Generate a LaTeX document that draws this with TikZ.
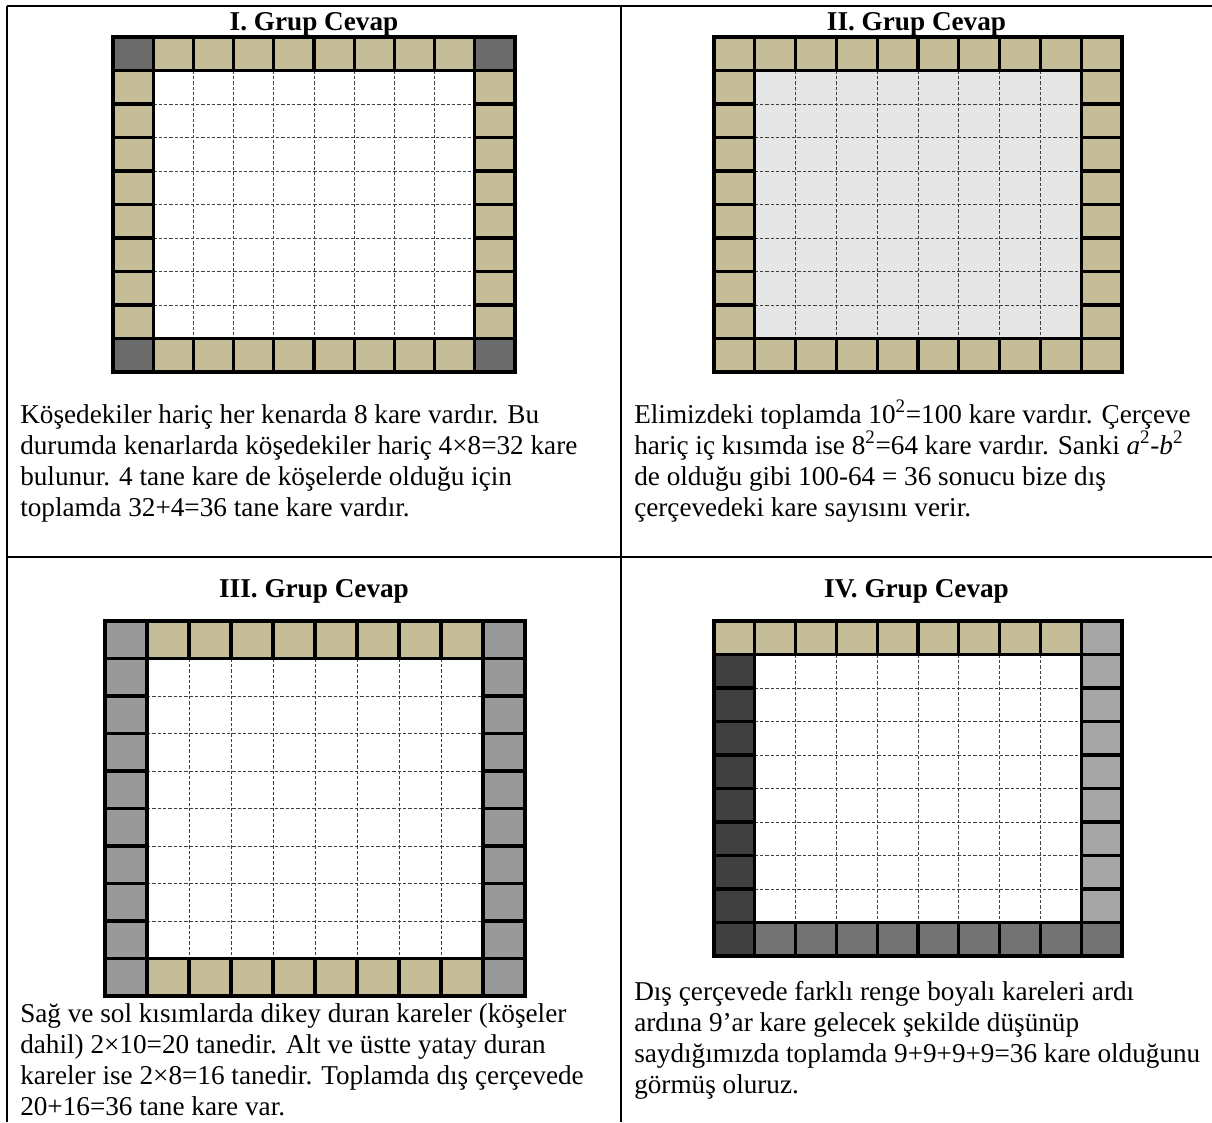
\documentclass[tikz,border=0pt]{standalone}
\usepackage{fontspec}
\setmainfont{Liberation Serif}
\definecolor{tanc}{HTML}{C4BD97}
\definecolor{cornerI}{HTML}{6B6B6B}
\definecolor{lightint}{HTML}{E6E6E6}
\definecolor{sideIII}{HTML}{999999}
\definecolor{darkIV}{HTML}{404040}
\definecolor{lightIV}{HTML}{A6A6A6}
\definecolor{midIV}{HTML}{737373}
\newcommand\gridbase[5]{%
  \fill[#5] ({#1+#3},{#2+#4}) rectangle ({#1+9*#3},{#2+9*#4});
  \foreach \k in {2,...,8} {
    \draw[dashline] ({#1+\k*#3},{#2+#4}) -- ({#1+\k*#3},{#2+9*#4});
    \draw[dashline] ({#1+#3},{#2+\k*#4}) -- ({#1+9*#3},{#2+\k*#4});
  }%
}
\newcommand\ringcell[7]{%
  \filldraw[cellbox,fill=#7] ({#1+#5*#3},{#2+#6*#4}) rectangle ++(#3,#4);%
}
\begin{document}
\begin{tikzpicture}[x=0.75pt,y=-0.75pt,
  dashline/.style={black!75,line width=0.75pt,dash pattern=on 2.5pt off 1.5pt},
  cellbox/.style={draw=black,line width=2.3pt},
  outerbox/.style={draw=black,line width=2.6pt},
  rule/.style={draw=black,line width=1.5pt},
  txt/.style={anchor=base west,inner sep=0pt,font=\fontsize{20.4}{23.3}\selectfont},
  head/.style={anchor=base,inner sep=0pt,font=\fontsize{20.4}{23.3}\selectfont\bfseries}]
\useasboundingbox (0,0) rectangle (1212,1122);
\fill[white] (0,0) rectangle (1212,1122);
% table rules
\draw[rule] (7,6) -- (1212,6);
\draw[rule] (7,6) -- (7,1122);
\draw[rule] (621,6) -- (621,1122);
\draw[rule] (7,557) -- (1212,557);
% headings
\node[head] (hI) at (314,30) {I. Grup Cevap};
\node[head] (hII) at (916.5,30) {II. Grup Cevap};
\node[head] (hIII) at (314,597) {III. Grup Cevap};
\node[head] (hIV) at (916.5,597) {IV. Grup Cevap};
% ---------- Grid I
\gridbase{113}{37}{40.2}{33.5}{white}
\foreach \i in {1,...,8} {
  \ringcell{113}{37}{40.2}{33.5}{\i}{0}{tanc}
  \ringcell{113}{37}{40.2}{33.5}{\i}{9}{tanc}
  \ringcell{113}{37}{40.2}{33.5}{0}{\i}{tanc}
  \ringcell{113}{37}{40.2}{33.5}{9}{\i}{tanc}
}
\ringcell{113}{37}{40.2}{33.5}{0}{0}{cornerI}
\ringcell{113}{37}{40.2}{33.5}{9}{0}{cornerI}
\ringcell{113}{37}{40.2}{33.5}{0}{9}{cornerI}
\ringcell{113}{37}{40.2}{33.5}{9}{9}{cornerI}
\draw[outerbox] (113,37) rectangle ++(402,335);
% ---------- Grid II
\gridbase{714}{37}{40.8}{33.5}{lightint}
\foreach \i in {0,...,9} {
  \ringcell{714}{37}{40.8}{33.5}{\i}{0}{tanc}
  \ringcell{714}{37}{40.8}{33.5}{\i}{9}{tanc}
  \ringcell{714}{37}{40.8}{33.5}{0}{\i}{tanc}
  \ringcell{714}{37}{40.8}{33.5}{9}{\i}{tanc}
}
\draw[outerbox] (714,37) rectangle ++(408,335);
% ---------- Grid III
\gridbase{105}{621}{42}{37.5}{white}
\foreach \i in {1,...,8} {
  \ringcell{105}{621}{42}{37.5}{\i}{0}{tanc}
  \ringcell{105}{621}{42}{37.5}{\i}{9}{tanc}
}
\foreach \i in {0,...,9} {
  \ringcell{105}{621}{42}{37.5}{0}{\i}{sideIII}
  \ringcell{105}{621}{42}{37.5}{9}{\i}{sideIII}
}
\draw[outerbox] (105,621) rectangle ++(420,375);
% ---------- Grid IV
\gridbase{714}{621}{40.8}{33.5}{white}
\foreach \i in {0,...,8} {
  \ringcell{714}{621}{40.8}{33.5}{\i}{0}{tanc}
  \ringcell{714}{621}{40.8}{33.5}{9}{\i}{lightIV}
}
\foreach \i in {1,...,9} {
  \ringcell{714}{621}{40.8}{33.5}{\i}{9}{midIV}
  \ringcell{714}{621}{40.8}{33.5}{0}{\i}{darkIV}
}
\draw[outerbox] (714,621) rectangle ++(408,335);
% ---------- Texts
\node[txt] (tIa) at (20,423) {Köşedekiler hariç her kenarda 8 kare vardır. Bu};
\node[txt] (tIb) at (20,454) {durumda kenarlarda köşedekiler hariç 4×8=32 kare};
\node[txt] (tIc) at (20,485) {bulunur. 4 tane kare de köşelerde olduğu için};
\node[txt] (tId) at (20,516) {toplamda 32+4=36 tane kare vardır.};
\node[txt] (tIIa) at (634,423) {Elimizdeki toplamda 10\textsuperscript{2}=100 kare vardır. Çerçeve};
\node[txt] (tIIb) at (634,454) {hariç iç kısımda ise 8\textsuperscript{2}=64 kare vardır. Sanki \textit{a}\textsuperscript{2}-\textit{b}\textsuperscript{2}};
\node[txt] (tIIc) at (634,485) {de olduğu gibi 100-64 = 36 sonucu bize dış};
\node[txt] (tIId) at (634,516) {çerçevedeki kare sayısını verir.};
\node[txt] (tIIIa) at (20,1022) {Sağ ve sol kısımlarda dikey duran kareler (köşeler};
\node[txt] (tIIIb) at (20,1053) {dahil) 2×10=20 tanedir. Alt ve üstte yatay duran};
\node[txt] (tIIIc) at (20,1084) {kareler ise 2×8=16 tanedir. Toplamda dış çerçevede};
\node[txt] (tIIId) at (20,1115) {20+16=36 tane kare var.};
\node[txt] (tIVa) at (634,1000) {Dış çerçevede farklı renge boyalı kareleri ardı};
\node[txt] (tIVb) at (634,1031) {ardına 9’ar kare gelecek şekilde düşünüp};
\node[txt] (tIVc) at (634,1062) {saydığımızda toplamda 9+9+9+9=36 kare olduğunu};
\node[txt] (tIVd) at (634,1093) {görmüş oluruz.};
\end{tikzpicture}
\end{document}
